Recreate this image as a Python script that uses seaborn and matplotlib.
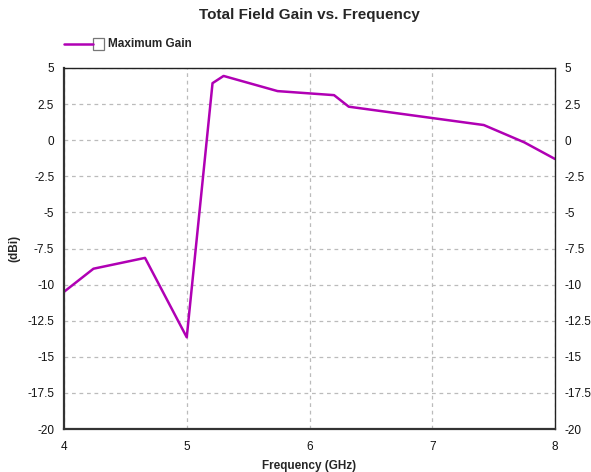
import matplotlib
matplotlib.use("Agg")
import matplotlib.pyplot as plt
from matplotlib.lines import Line2D
from matplotlib.patches import Rectangle
import seaborn as sns
import pandas as pd

# Maximum total field gain across the band
freq_ghz = [4.0, 4.24, 4.66, 5.0, 5.21, 5.30, 5.74, 6.20, 6.32, 7.42, 7.75, 8.0]
gain_dbi = [-10.5, -8.9, -8.15, -13.65, 3.95, 4.45, 3.4, 3.12, 2.32, 1.05, -0.15, -1.3]

x_ticks = [4, 5, 6, 7, 8]
y_ticks = [5, 2.5, 0, -2.5, -5, -7.5, -10, -12.5, -15, -17.5, -20]
y_tick_labels = ["5", "2.5", "0", "-2.5", "-5", "-7.5", "-10", "-12.5", "-15", "-17.5", "-20"]

series_name = "Maximum Gain"
line_color = "#B000B4"

sns.set_style("white")
plt.rcParams["font.family"] = ["Liberation Sans", "DejaVu Sans"]

df = pd.DataFrame({"Frequency": freq_ghz, "Gain": gain_dbi})

fig = plt.figure(figsize=(5.91, 4.72), dpi=100)
ax = fig.add_axes([64 / 591, 1 - 429 / 472, (555 - 64) / 591, (429 - 68) / 472])

sns.lineplot(data=df, x="Frequency", y="Gain", ax=ax, color=line_color,
             linewidth=1.8, legend=False)

ax.set_xlim(4, 8)
ax.set_ylim(-20, 5)
ax.set_xticks(x_ticks)
ax.set_xticklabels([str(t) for t in x_ticks])
ax.set_yticks(y_ticks)
ax.set_yticklabels(y_tick_labels)
ax.grid(True, color="#BBBBBB", linestyle=(0, (3, 3)), linewidth=0.9)

ax.tick_params(axis="both", length=0, labelsize=8.5, colors="#111111")
ax.tick_params(axis="x", pad=9)
ax.tick_params(axis="y", pad=7, labelright=True, right=False)

for side in ["top", "right"]:
    ax.spines[side].set_color("#222222")
    ax.spines[side].set_linewidth(1.0)
for side in ["left", "bottom"]:
    ax.spines[side].set_color("#333333")
    ax.spines[side].set_linewidth(1.6)

ax.set_xlabel("Frequency (GHz)", fontsize=8.5, fontweight="bold", labelpad=5)
ax.set_ylabel("(dBi)", fontsize=8.5, fontweight="bold")
ax.yaxis.set_label_coords((20 - 64) / 491, 0.5)

fig.text(309 / 591, 1 - 15 / 472, "Total Field Gain vs. Frequency",
         ha="center", va="center", fontsize=11, fontweight="bold")

# Legend entry: line sample, checkbox, label
ly = 1 - 44 / 472
fig.add_artist(Line2D([64 / 591, 93 / 591], [ly, ly], color=line_color, linewidth=1.8))
fig.add_artist(Rectangle((93 / 591, ly - 5.5 / 472), 11 / 591, 11 / 472,
                         facecolor="white", edgecolor="#777777", linewidth=0.9))
fig.text(108 / 591, ly, series_name, ha="left", va="center", fontsize=8.5, fontweight="bold")

fig.savefig("out.png", dpi=100)
